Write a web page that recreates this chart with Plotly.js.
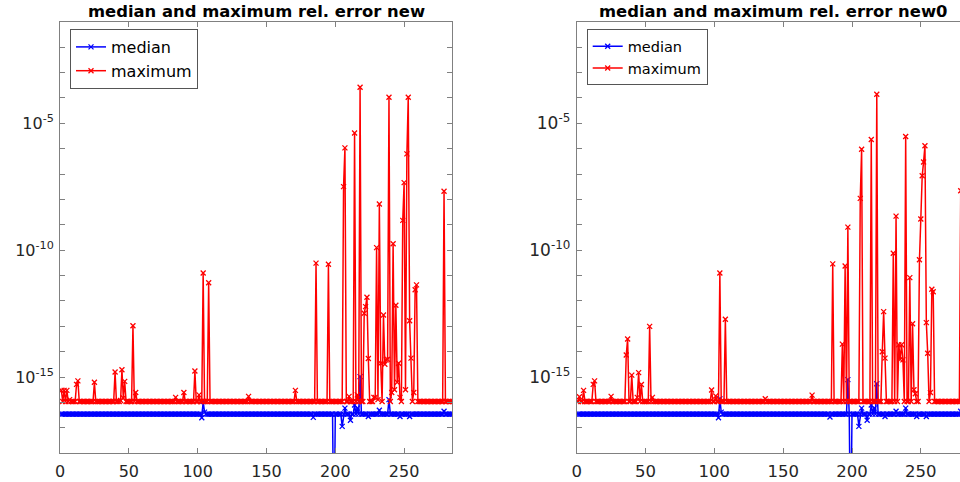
<!DOCTYPE html>
<html>
<head>
<meta charset="utf-8">
<script src="https://cdn.plot.ly/plotly-3.0.1.min.js"></script>
<style>
html, body { margin:0; padding:0; overflow:hidden; background:#fff; width:960px; height:482px; }
#chart { width:975px; height:482px; }
</style>
</head>
<body>
<div id="chart"></div>
<script>
// sample index 1..285
const N = 285;
const xIndex = Array.from({length: N}, (_, k) => k + 1);

const xTickVals = [0, 50, 100, 150, 200, 250];
const yTickVals = [1e-15, 1e-10, 1e-5];
const yTickText = ['10<sup>-15</sup>', '10<sup>-10</sup>', '10<sup>-5</sup>'];
const yMinorTickVals = [1e-18,1e-17,1e-16,1e-14,1e-13,1e-12,1e-11,1e-9,1e-8,1e-7,1e-6,1e-4,1e-3,1e-2,1e-1];

const titles = ['median and maximum rel. error new', 'median and maximum rel. error new0'];
const seriesNames = ['median', 'maximum'];

// left panel ("new")
const medianNew = [
3.5e-17,3.5e-17,3.5e-17,3.5e-17,3.5e-17,3.5e-17,3.5e-17,3.5e-17,3.5e-17,3.5e-17,
3.5e-17,3.5e-17,3.5e-17,3.5e-17,3.5e-17,3.5e-17,3.5e-17,3.5e-17,3.5e-17,3.5e-17,
3.5e-17,3.5e-17,3.5e-17,3.5e-17,3.5e-17,3.5e-17,3.5e-17,3.5e-17,3.5e-17,3.5e-17,
3.5e-17,3.5e-17,3.5e-17,3.5e-17,3.5e-17,3.5e-17,3.5e-17,3.5e-17,3.5e-17,3.5e-17,
3.5e-17,3.5e-17,3.5e-17,3.5e-17,3.5e-17,3.5e-17,3.5e-17,3.5e-17,3.5e-17,3.5e-17,
3.5e-17,3.5e-17,3.5e-17,3.5e-17,3.5e-17,3.5e-17,3.5e-17,3.5e-17,3.5e-17,3.5e-17,
3.5e-17,3.5e-17,3.5e-17,3.5e-17,3.5e-17,3.5e-17,3.5e-17,3.5e-17,3.5e-17,3.5e-17,
3.5e-17,3.5e-17,3.5e-17,3.5e-17,3.5e-17,3.5e-17,3.5e-17,3.5e-17,3.5e-17,3.5e-17,
3.5e-17,3.5e-17,3.5e-17,3.5e-17,3.5e-17,3.5e-17,3.5e-17,3.5e-17,3.5e-17,3.5e-17,
3.5e-17,3.5e-17,3.5e-17,3.5e-17,3.5e-17,3.5e-17,3.5e-17,3.5e-17,3.5e-17,3.5e-17,
3.5e-17,3.5e-17,2.5e-17,1.1e-16,4.2e-17,3.5e-17,3.5e-17,3.5e-17,3.5e-17,3.5e-17,
3.5e-17,3.5e-17,3.5e-17,3.5e-17,3.5e-17,3.5e-17,3.5e-17,3.5e-17,3.5e-17,3.5e-17,
3.5e-17,3.5e-17,3.5e-17,3.5e-17,3.5e-17,3.5e-17,3.5e-17,3.5e-17,3.5e-17,3.5e-17,
3.5e-17,3.5e-17,3.5e-17,3.5e-17,3.5e-17,3.5e-17,3.5e-17,3.5e-17,3.5e-17,3.5e-17,
3.5e-17,3.5e-17,3.5e-17,3.5e-17,3.5e-17,3.5e-17,3.5e-17,3.5e-17,3.5e-17,3.5e-17,
3.5e-17,3.5e-17,3.5e-17,3.5e-17,3.5e-17,3.5e-17,3.5e-17,3.5e-17,3.5e-17,3.5e-17,
3.5e-17,3.5e-17,3.5e-17,3.5e-17,3.5e-17,3.5e-17,3.5e-17,3.5e-17,3.5e-17,3.5e-17,
3.5e-17,3.5e-17,3.5e-17,3.5e-17,3.5e-17,3.5e-17,3.5e-17,3.5e-17,3.5e-17,3.5e-17,
3.5e-17,3.5e-17,3.5e-17,2.6e-17,3.5e-17,3.5e-17,3.5e-17,3.5e-17,3.5e-17,3.5e-17,
3.5e-17,3.5e-17,3.5e-17,3.5e-17,3.5e-17,3.5e-17,3.5e-17,3.5e-17,1e-22,3.5e-17,
3.5e-17,3.5e-17,3.5e-17,3.5e-17,1.15e-17,3.5e-17,6.0e-17,3.5e-17,3.5e-17,3.5e-17,
2.0e-17,3.5e-17,3.5e-17,8.0e-17,3.5e-17,6.0e-17,3.5e-17,1.05e-15,3.5e-17,3.5e-17,
3.5e-17,3.5e-17,3.5e-17,2.8e-17,3.5e-17,3.5e-17,3.5e-17,3.5e-17,3.5e-17,3.5e-17,
3.5e-17,5.0e-17,3.5e-17,3.5e-17,3.5e-17,3.5e-17,3.5e-17,3.5e-17,1.3e-16,3.5e-17,
3.5e-17,3.5e-17,3.5e-17,3.5e-17,3.5e-17,3.5e-17,2.8e-17,3.5e-17,3.5e-17,3.5e-17,
3.5e-17,3.5e-17,3.5e-17,2.8e-17,3.5e-17,3.5e-17,3.5e-17,3.5e-17,3.5e-17,3.5e-17,
3.5e-17,3.5e-17,3.5e-17,3.5e-17,3.5e-17,3.5e-17,3.5e-17,3.5e-17,3.5e-17,3.5e-17,
3.5e-17,3.5e-17,3.5e-17,3.5e-17,3.5e-17,3.5e-17,3.5e-17,3.5e-17,4.5e-17,3.5e-17,
3.5e-17,3.5e-17,3.5e-17,3.5e-17,3.5e-17
];

const maximumNew = [
3.0e-16,1.1e-16,3.0e-16,1.1e-16,3.0e-16,1.1e-16,1.3e-16,1.1e-16,1.1e-16,1.1e-16,
1.1e-16,5.2e-16,7.1e-16,1.1e-16,1.1e-16,1.1e-16,1.1e-16,1.1e-16,1.1e-16,1.1e-16,
1.1e-16,1.1e-16,1.1e-16,1.1e-16,6.3e-16,1.1e-16,1.1e-16,1.1e-16,1.1e-16,1.1e-16,
1.1e-16,1.1e-16,1.1e-16,1.1e-16,1.1e-16,1.1e-16,1.1e-16,1.1e-16,1.1e-16,1.6e-15,
1.1e-16,1.1e-16,1.1e-16,1.2e-16,1.95e-15,1.5e-16,6.8e-16,1.1e-16,1.1e-16,1.1e-16,
1.1e-16,1.1e-16,1.05e-13,1.1e-16,2.5e-16,1.1e-16,1.1e-16,1.1e-16,1.1e-16,1.1e-16,
1.1e-16,1.1e-16,1.1e-16,1.1e-16,1.1e-16,1.1e-16,1.1e-16,1.1e-16,1.1e-16,1.1e-16,
1.1e-16,1.1e-16,1.1e-16,1.1e-16,1.1e-16,1.1e-16,1.1e-16,1.1e-16,1.1e-16,1.1e-16,
1.1e-16,1.1e-16,1.1e-16,1.6e-16,1.1e-16,1.1e-16,1.1e-16,1.1e-16,1.1e-16,2.5e-16,
1.1e-16,1.1e-16,1.1e-16,1.1e-16,1.1e-16,1.1e-16,1.1e-16,1.75e-15,1.1e-16,1.1e-16,
2.0e-16,1.1e-16,1.1e-16,1.26e-11,1.1e-16,1.1e-16,1.1e-16,5.2e-12,1.1e-16,1.1e-16,
1.1e-16,1.1e-16,1.1e-16,1.1e-16,1.1e-16,1.1e-16,1.1e-16,1.1e-16,1.1e-16,1.1e-16,
1.1e-16,1.1e-16,1.1e-16,1.1e-16,1.1e-16,1.1e-16,1.1e-16,1.1e-16,1.1e-16,1.1e-16,
1.1e-16,1.1e-16,1.1e-16,1.1e-16,1.1e-16,1.1e-16,1.75e-16,1.1e-16,1.1e-16,1.1e-16,
1.1e-16,1.1e-16,1.1e-16,1.1e-16,1.1e-16,1.1e-16,1.1e-16,1.1e-16,1.1e-16,1.1e-16,
1.1e-16,1.1e-16,1.1e-16,1.1e-16,1.1e-16,1.1e-16,1.1e-16,1.1e-16,1.1e-16,1.1e-16,
1.1e-16,1.1e-16,1.1e-16,1.1e-16,1.1e-16,1.1e-16,1.1e-16,1.1e-16,1.1e-16,1.1e-16,
3.0e-16,1.1e-16,1.1e-16,1.1e-16,1.1e-16,1.1e-16,1.1e-16,1.1e-16,1.1e-16,1.1e-16,
1.1e-16,1.1e-16,1.1e-16,1.1e-16,1.1e-16,3.1e-11,1.1e-16,1.1e-16,1.1e-16,1.1e-16,
1.1e-16,1.1e-16,1.1e-16,1.1e-16,2.8e-11,1.1e-16,1.1e-16,1.1e-16,1.1e-16,1.1e-16,
1.1e-16,1.1e-16,1.1e-16,1.1e-16,1.1e-16,3.2e-8,1.07e-6,1.1e-16,1.1e-16,1.75e-16,
1.1e-16,1.1e-16,1.1e-16,4.1e-6,1.1e-16,2.0e-16,1.1e-16,2.6e-4,1.1e-16,1.1e-16,
3.3e-13,6.0e-13,1.4e-12,5.4e-15,1.1e-16,1.1e-16,1.1e-16,1.6e-16,1.6e-16,1.26e-10,
1.3e-16,6.6e-9,3.5e-15,1.1e-16,2.8e-13,3.2e-15,4.8e-15,5.0e-15,1.05e-4,1.1e-16,
2.5e-16,1.8e-10,3.2e-16,6.8e-13,6.3e-16,3.5e-15,1.6e-16,1.1e-16,1.5e-9,4.6e-8,
3.2e-16,6.2e-7,1.05e-4,1.66e-13,5.6e-15,1.1e-16,2.5e-16,2.75e-12,4.3e-12,1.1e-16,
1.1e-16,1.1e-16,1.1e-16,1.1e-16,1.1e-16,1.1e-16,1.1e-16,1.1e-16,1.1e-16,1.1e-16,
1.1e-16,1.1e-16,1.1e-16,1.1e-16,1.1e-16,1.1e-16,1.1e-16,1.1e-16,2.1e-8,1.1e-16,
1.1e-16,1.1e-16,1.1e-16,1.1e-16,1.1e-16
];

// right panel ("new0")
const medianNew0 = [
3.5e-17,3.5e-17,3.5e-17,3.5e-17,3.5e-17,3.5e-17,3.5e-17,3.5e-17,3.5e-17,3.5e-17,
3.5e-17,3.5e-17,3.5e-17,3.5e-17,3.5e-17,3.5e-17,3.5e-17,3.5e-17,3.5e-17,3.5e-17,
3.5e-17,3.5e-17,3.5e-17,3.5e-17,3.5e-17,3.5e-17,3.5e-17,3.5e-17,3.5e-17,3.5e-17,
3.5e-17,3.5e-17,3.5e-17,3.5e-17,3.5e-17,3.5e-17,3.5e-17,3.5e-17,3.5e-17,3.5e-17,
3.5e-17,3.5e-17,3.5e-17,3.5e-17,3.5e-17,3.5e-17,3.5e-17,3.5e-17,3.5e-17,3.5e-17,
3.5e-17,3.5e-17,3.5e-17,3.5e-17,3.5e-17,3.5e-17,3.5e-17,3.5e-17,3.5e-17,3.5e-17,
3.5e-17,3.5e-17,3.5e-17,3.5e-17,3.5e-17,3.5e-17,3.5e-17,3.5e-17,3.5e-17,3.5e-17,
3.5e-17,3.5e-17,3.5e-17,3.5e-17,3.5e-17,3.5e-17,3.5e-17,3.5e-17,3.5e-17,3.5e-17,
3.5e-17,3.5e-17,3.5e-17,3.5e-17,3.5e-17,3.5e-17,3.5e-17,3.5e-17,3.5e-17,3.5e-17,
3.5e-17,3.5e-17,3.5e-17,3.5e-17,3.5e-17,3.5e-17,3.5e-17,3.5e-17,3.5e-17,3.5e-17,
3.5e-17,3.5e-17,2.5e-17,1.4e-16,4.2e-17,3.5e-17,3.5e-17,3.5e-17,3.5e-17,3.5e-17,
3.5e-17,3.5e-17,3.5e-17,3.5e-17,3.5e-17,3.5e-17,3.5e-17,3.5e-17,3.5e-17,3.5e-17,
3.5e-17,3.5e-17,3.5e-17,3.5e-17,3.5e-17,3.5e-17,3.5e-17,3.5e-17,3.5e-17,3.5e-17,
3.5e-17,3.5e-17,3.5e-17,3.5e-17,3.5e-17,3.5e-17,3.5e-17,3.5e-17,3.5e-17,3.5e-17,
3.5e-17,3.5e-17,3.5e-17,3.5e-17,3.5e-17,3.5e-17,3.5e-17,3.5e-17,3.5e-17,3.5e-17,
3.5e-17,3.5e-17,3.5e-17,3.5e-17,3.5e-17,3.5e-17,3.5e-17,3.5e-17,3.5e-17,3.5e-17,
3.5e-17,3.5e-17,3.5e-17,3.5e-17,3.5e-17,3.5e-17,3.5e-17,3.5e-17,3.5e-17,3.5e-17,
3.5e-17,3.5e-17,3.5e-17,3.5e-17,3.5e-17,3.5e-17,3.5e-17,3.5e-17,3.5e-17,3.5e-17,
3.5e-17,3.5e-17,3.5e-17,2.7e-17,3.5e-17,3.5e-17,3.5e-17,3.5e-17,3.5e-17,3.5e-17,
3.5e-17,3.5e-17,3.5e-17,3.5e-17,3.5e-17,3.5e-17,8.0e-16,3.5e-17,1e-22,3.5e-17,
3.5e-17,3.5e-17,3.5e-17,3.5e-17,1.15e-17,3.5e-17,6.0e-17,3.5e-17,3.5e-17,3.5e-17,
2.0e-17,3.5e-17,3.5e-17,8.0e-17,3.5e-17,6.0e-17,3.5e-17,5.5e-16,3.5e-17,3.5e-17,
3.5e-17,3.5e-17,3.5e-17,2.8e-17,3.5e-17,3.5e-17,3.5e-17,3.5e-17,3.5e-17,3.5e-17,
3.5e-17,4.5e-17,3.5e-17,3.5e-17,3.5e-17,3.5e-17,3.5e-17,3.5e-17,6.0e-17,3.5e-17,
3.5e-17,3.5e-17,3.5e-17,3.5e-17,3.5e-17,3.5e-17,2.8e-17,3.5e-17,3.5e-17,3.5e-17,
3.5e-17,3.5e-17,3.5e-17,2.8e-17,3.5e-17,3.5e-17,3.5e-17,3.5e-17,3.5e-17,3.5e-17,
3.5e-17,3.5e-17,3.5e-17,3.5e-17,3.5e-17,3.5e-17,3.5e-17,3.5e-17,3.5e-17,3.5e-17,
3.5e-17,3.5e-17,3.5e-17,3.5e-17,3.5e-17,3.5e-17,3.5e-17,3.5e-17,4.5e-17,3.5e-17,
3.5e-17,3.5e-17,3.5e-17,3.5e-17,3.5e-17
];

const maximumNew0 = [
1.1e-16,1.7e-16,1.1e-16,1.1e-16,3.0e-16,1.1e-16,1.1e-16,1.1e-16,1.1e-16,1.1e-16,
1.1e-16,5.2e-16,7.1e-16,1.1e-16,1.1e-16,1.1e-16,1.1e-16,1.1e-16,1.1e-16,1.1e-16,
1.1e-16,1.1e-16,1.1e-16,1.1e-16,1.75e-16,1.1e-16,1.1e-16,1.1e-16,1.1e-16,1.1e-16,
1.1e-16,1.1e-16,1.1e-16,1.1e-16,1.1e-16,7.4e-15,3.2e-14,1.1e-16,1.1e-16,1.2e-15,
1.1e-16,1.1e-16,1.1e-16,1.6e-16,1.5e-15,1.1e-16,5.1e-16,1.1e-16,1.1e-16,1.1e-16,
1.1e-16,1.1e-16,1.0e-13,1.1e-16,1.6e-16,1.1e-16,1.1e-16,1.1e-16,1.1e-16,1.1e-16,
1.1e-16,1.1e-16,1.1e-16,1.1e-16,1.1e-16,1.1e-16,1.1e-16,1.1e-16,1.1e-16,1.1e-16,
1.1e-16,1.1e-16,1.1e-16,1.1e-16,1.1e-16,1.1e-16,1.1e-16,1.1e-16,1.1e-16,1.1e-16,
1.1e-16,1.1e-16,1.1e-16,1.1e-16,1.1e-16,1.1e-16,1.1e-16,1.1e-16,1.1e-16,1.1e-16,
1.1e-16,1.1e-16,1.1e-16,1.1e-16,1.1e-16,1.1e-16,1.1e-16,3.1e-16,1.1e-16,1.1e-16,
1.8e-16,1.1e-16,1.1e-16,1.26e-11,1.1e-16,1.1e-16,1.1e-16,1.9e-13,1.1e-16,1.1e-16,
1.1e-16,1.1e-16,1.1e-16,1.1e-16,1.1e-16,1.1e-16,1.1e-16,1.1e-16,1.1e-16,1.1e-16,
1.1e-16,1.1e-16,1.1e-16,1.1e-16,1.1e-16,1.1e-16,1.1e-16,1.1e-16,1.1e-16,1.1e-16,
1.1e-16,1.1e-16,1.1e-16,1.1e-16,1.1e-16,1.1e-16,1.4e-16,1.1e-16,1.1e-16,1.1e-16,
1.1e-16,1.1e-16,1.1e-16,1.1e-16,1.1e-16,1.1e-16,1.1e-16,1.1e-16,1.1e-16,1.1e-16,
1.1e-16,1.1e-16,1.1e-16,1.1e-16,1.1e-16,1.1e-16,1.1e-16,1.1e-16,1.1e-16,1.1e-16,
1.1e-16,1.1e-16,1.1e-16,1.1e-16,1.1e-16,1.1e-16,1.1e-16,1.1e-16,1.1e-16,1.1e-16,
1.95e-16,1.1e-16,1.1e-16,1.1e-16,1.1e-16,1.1e-16,1.1e-16,1.1e-16,1.1e-16,1.1e-16,
1.1e-16,1.1e-16,1.1e-16,1.1e-16,1.1e-16,2.9e-11,1.1e-16,1.1e-16,1.1e-16,1.1e-16,
1.1e-16,1.1e-16,2.0e-14,1.1e-16,2.4e-11,1.1e-16,8.1e-10,1.1e-16,1.1e-16,1.1e-16,
1.1e-16,1.1e-16,1.1e-16,1.1e-16,1.1e-16,1.1e-8,9.5e-7,1.1e-16,1.1e-16,1.1e-16,
1.1e-16,1.1e-16,1.1e-16,2.3e-6,1.1e-16,1.1e-16,1.1e-16,1.38e-4,1.1e-16,1.1e-16,
1.1e-16,1.0e-14,3.8e-13,5.6e-15,1.1e-16,1.1e-16,1.1e-16,1.1e-16,1.1e-16,7.6e-11,
1.1e-16,2.2e-9,1.1e-16,1.9e-14,5.0e-15,1.9e-14,4.8e-15,1.1e-16,3.0e-6,1.1e-16,
1.1e-16,8.3e-12,1.1e-16,1.26e-13,3.2e-16,2.2e-16,1.1e-16,1.1e-16,4.2e-11,1.7e-9,
8.5e-8,3.0e-7,1.3e-6,1.4e-13,8.7e-15,1.1e-16,2.5e-16,2.9e-12,2.3e-12,1.1e-16,
1.1e-16,1.1e-16,1.1e-16,1.1e-16,1.1e-16,1.1e-16,1.1e-16,1.1e-16,1.1e-16,1.1e-16,
1.1e-16,1.1e-16,1.1e-16,1.1e-16,1.1e-16,1.1e-16,1.1e-16,1.1e-16,2.2e-8,1.1e-16,
1.1e-16,1.1e-16,1.1e-16,1.1e-16,1.1e-16
];

const W = 975, H = 482;
const FONT = 'DejaVu Sans';
const BLUE = '#0000ff', RED = '#ff0000';

function mkTrace(y, name, color, xa, ya, leg) {
  return {
    x: xIndex, y: y, name: name, xaxis: xa, yaxis: ya, legend: leg,
    type: 'scatter', mode: 'lines+markers',
    line: {color: color, width: 1.5},
    marker: {symbol: 'x-thin', size: 5, color: color, line: {color: color, width: 1.3}},
    cliponaxis: true
  };
}

const data = [
  mkTrace(medianNew, seriesNames[0], BLUE, 'x', 'y', 'legend'),
  mkTrace(maximumNew, seriesNames[1], RED, 'x', 'y', 'legend'),
  mkTrace(medianNew0, seriesNames[0], BLUE, 'x2', 'y2', 'legend2'),
  mkTrace(maximumNew0, seriesNames[1], RED, 'x2', 'y2', 'legend2')
];

const AX = '#808080';
function xAxis(dom, anchor, fs) {
  return {
    domain: dom, anchor: anchor, range: [0, 285],
    tickvals: xTickVals, ticks: 'inside', ticklen: 5, tickcolor: AX, tickwidth: 1,
    showline: true, linecolor: AX, linewidth: 1, mirror: 'ticks',
    showgrid: false, zeroline: false,
    tickfont: {family: FONT, size: fs, color: '#262626'},
    ticklabelstandoff: 3
  };
}
function yAxis(dom, anchor, fs) {
  return {
    domain: dom, anchor: anchor, type: 'log', range: [-18, -1],
    tickvals: yTickVals, ticktext: yTickText,
    ticks: 'inside', ticklen: 5, tickcolor: AX, tickwidth: 1,
    minor: {tickvals: yMinorTickVals, ticks: 'inside', ticklen: 5, tickcolor: AX, tickwidth: 1, showgrid: false},
    showline: true, linecolor: AX, linewidth: 1, mirror: 'ticks',
    showgrid: false, zeroline: false,
    tickfont: {family: FONT, size: fs, color: '#262626'},
    ticklabelstandoff: 2
  };
}

const yDom = [1 - 453.3 / H, 1 - 21.7 / H];
const xDom1 = [60 / W, 452.3 / W];
const xDom2 = [576.7 / W, 969 / W];

const layout = {
  width: W, height: H,
  margin: {l: 0, r: 0, t: 0, b: 0},
  paper_bgcolor: '#ffffff', plot_bgcolor: '#ffffff',
  showlegend: true,
  xaxis: xAxis(xDom1, 'y', 16),
  yaxis: yAxis(yDom, 'x', 16),
  xaxis2: xAxis(xDom2, 'y2', 16.5),
  yaxis2: yAxis(yDom, 'x2', 17),
  legend: {
    x: 70 / W, y: 1 - 29 / H, xanchor: 'left', yanchor: 'top',
    bgcolor: '#ffffff', bordercolor: '#555555', borderwidth: 1,
    font: {family: FONT, size: 16, color: '#000'}, tracegroupgap: 0
  },
  legend2: {
    x: 586.7 / W, y: 1 - 29.3 / H, xanchor: 'left', yanchor: 'top',
    bgcolor: '#ffffff', bordercolor: '#555555', borderwidth: 1,
    font: {family: FONT, size: 14.5, color: '#000'}, tracegroupgap: 0
  },
  annotations: [
    {text: titles[0], xref: 'paper', yref: 'paper', x: (xDom1[0] + xDom1[1]) / 2, y: 1 - 11.5 / H,
     xanchor: 'center', yanchor: 'middle', showarrow: false,
     font: {family: FONT, size: 16.4, weight: 'bold', color: '#000'}},
    {text: titles[1], xref: 'paper', yref: 'paper', x: (xDom2[0] + xDom2[1]) / 2, y: 1 - 11.5 / H,
     xanchor: 'center', yanchor: 'middle', showarrow: false,
     font: {family: FONT, size: 16.4, weight: 'bold', color: '#000'}}
  ]
};

Plotly.newPlot('chart', data, layout, {displayModeBar: false, staticPlot: true});
</script>
</body>
</html>
